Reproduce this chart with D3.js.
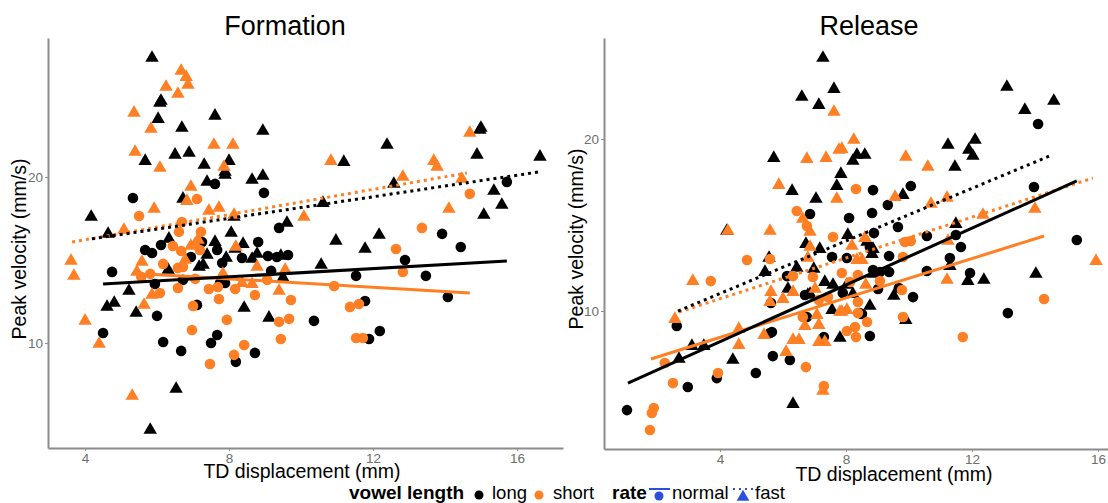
<!DOCTYPE html>
<html>
<head>
<meta charset="utf-8">
<script src="https://cdn.jsdelivr.net/npm/d3@7"></script>
<style>
  html, body { margin: 0; padding: 0; background: #fff; overflow: hidden; }
  text { font-family: "Liberation Sans", Arial, sans-serif; }
</style>
</head>
<body>
<div id="chart"></div>
<script>
var svgWidth = 1108;
var svgHeight = 503;

var black = "#000000";
var orange = "#ff7f24";
var blue = "#2b50dc";

// [TD displacement, peak velocity]
var formationFastLong = [[5.86,27.29],[6.08,24.58],[6.11,24.7],[6.03,23.61],[7.61,23.8],[6.69,23.07],[8.94,22.89],[6.5,21.45],[6.89,21.57],[5.67,21.08],[7.31,20.84],[8.0,21.08],[7.89,20.42],[7.89,20.24],[7.39,19.82],[8.64,19.94],[8.94,20.18],[6.72,18.8],[4.17,17.71],[4.64,16.69],[8.14,17.71],[9.61,17.35],[8.06,16.75],[6.33,16.39],[7.61,16.2],[8.39,16.08],[8.17,15.78],[15.0,23.07],[14.97,22.95],[12.39,22.05],[11.19,21.02],[14.89,21.45],[16.64,21.33],[12.58,19.7],[15.36,19.28],[15.58,18.43],[15.08,17.83],[10.61,18.55],[12.17,16.63],[10.97,16.27],[11.78,15.78],[7.39,15.42],[7.28,14.82],[7.17,14.7],[6.31,14.52],[7.92,15.24],[8.64,15.18],[8.78,15.48],[9.44,15.36],[9.5,14.04],[5.22,13.25],[4.81,12.53],[4.61,12.29],[5.42,11.93],[8.42,12.23],[9.11,11.63],[6.53,7.35],[5.81,4.88],[10.56,14.82]];
var formationNormalLong = [[7.61,19.58],[5.33,18.73],[8.97,19.04],[9.39,16.93],[7.25,16.08],[6.11,15.9],[5.67,15.6],[5.86,15.42],[8.81,16.08],[7.67,15.6],[6.94,15.18],[7.81,14.82],[8.36,15.12],[9.08,15.24],[9.33,15.18],[9.64,15.3],[9.17,14.34],[7.75,13.61],[7.89,13.61],[6.72,13.8],[5.94,13.55],[7.11,12.29],[6.0,11.63],[4.75,14.28],[4.5,10.6],[6.17,10.06],[6.67,9.52],[7.5,10.0],[7.67,10.48],[8.72,9.4],[8.19,8.86],[15.72,19.7],[13.92,16.57],[14.44,15.78],[12.89,15.0],[11.53,14.04],[13.47,14.04],[14.08,12.77],[11.78,12.53],[10.36,11.33],[12.19,10.72],[11.89,10.24]];
var formationFastShort = [[6.67,26.51],[6.81,26.14],[6.86,25.66],[6.25,25.54],[6.58,25.12],[5.36,23.98],[5.83,23.01],[5.39,21.63],[6.08,20.66],[7.58,22.05],[8.11,22.05],[7.86,20.72],[6.94,19.52],[6.83,18.67],[5.92,18.19],[7.44,18.07],[7.72,18.25],[8.14,17.83],[5.08,16.93],[7.06,16.08],[6.94,15.96],[8.19,15.9],[14.69,22.77],[10.83,21.08],[13.69,21.08],[13.78,20.72],[12.83,20.12],[14.47,20.0],[14.11,18.19],[10.08,17.71],[3.61,15.06],[3.69,14.16],[4.0,11.45],[4.39,10.06],[5.31,6.93],[5.58,15.0],[5.44,14.4],[5.86,13.01],[5.64,12.41],[6.78,15.12],[7.83,14.28],[8.78,14.7],[9.56,14.52],[9.39,13.25],[8.64,13.67],[8.36,13.73],[7.14,16.33]];
var formationNormalShort = [[7.11,18.67],[5.5,17.65],[6.69,17.29],[6.61,16.69],[7.22,16.69],[6.44,15.84],[6.67,15.54],[7.19,15.6],[14.69,18.98],[13.36,16.93],[12.64,15.66],[6.17,14.76],[6.58,14.52],[6.72,14.58],[5.81,14.16],[5.56,13.98],[6.08,13.01],[6.58,13.31],[7.06,13.86],[7.44,13.25],[7.69,13.37],[8.17,13.25],[7.72,12.65],[8.72,12.89],[9.72,12.59],[7.0,12.23],[7.94,11.39],[9.67,11.45],[9.39,11.27],[6.97,10.78],[9.44,10.24],[8.42,9.88],[8.14,9.28],[7.47,8.73],[9.06,13.8],[12.83,14.28],[10.92,13.43],[11.61,12.35],[11.36,12.17],[11.53,10.3],[11.72,10.3]];

var releaseFastLong = [[7.27,24.83],[7.62,23.02],[6.6,22.56],[7.14,22.09],[5.71,19.01],[6.29,17.09],[7.05,16.63],[7.71,17.38],[7.84,18.08],[6.73,14.01],[7.17,13.72],[4.22,14.77],[13.11,23.14],[14.6,22.33],[13.68,21.8],[12.1,20.06],[11.24,19.77],[11.9,19.48],[12.03,19.13],[11.46,18.49],[8.6,19.19],[8.35,19.19],[8.22,18.84],[9.81,16.86],[11.49,15.17],[8.06,14.53],[5.56,13.2],[5.43,12.38],[6.44,12.62],[6.98,12.56],[7.33,11.8],[7.59,11.63],[6.16,11.4],[6.79,11.05],[7.56,10.17],[3.11,8.08],[3.49,8.08],[2.7,7.33],[4.41,7.27],[6.32,4.71],[7.81,8.55],[8.67,14.13],[8.83,13.43],[8.86,13.72],[11.3,12.73],[14.03,12.27],[12.38,11.92],[11.87,11.86],[8.86,12.27],[9.52,10.99],[8.76,10.41],[8.03,11.63],[8.22,11.1],[9.9,9.59],[6.86,11.1]];
var releaseNormalLong = [[6.86,15.64],[14.1,20.87],[8.86,17.03],[10.06,17.27],[13.97,17.21],[9.33,16.16],[8.83,15.7],[8.1,15.41],[9.65,14.88],[10.57,14.36],[11.49,14.42],[15.33,14.13],[8.89,14.53],[11.65,13.72],[8.76,13.72],[2.63,9.13],[1.05,4.24],[2.98,5.58],[3.9,6.1],[5.14,6.4],[5.68,7.38],[6.22,7.15],[5.59,8.72],[6.76,9.65],[6.13,12.03],[7.56,13.14],[7.3,8.49],[5.62,10.47],[8.03,13.08],[9.37,13.2],[11.3,13.08],[8.86,12.38],[9.08,12.27],[9.37,12.27],[10.57,12.33],[11.94,12.21],[7.9,11.05],[9.02,11.28],[9.68,11.34],[10.13,10.81],[8.51,9.83],[13.14,9.88],[8.76,8.55],[6.7,10.93],[5.65,8.78],[8.44,9.88]];
var releaseFastShort = [[7.62,21.69],[6.76,18.95],[7.37,19.01],[7.78,19.48],[5.87,17.44],[7.71,16.63],[4.25,14.77],[5.59,14.77],[6.63,15.47],[6.86,14.71],[6.86,13.84],[6.79,13.2],[8.25,20.06],[7.87,19.53],[9.9,19.07],[10.6,18.49],[9.56,16.74],[11.21,16.69],[10.7,16.34],[12.35,15.7],[14.0,16.05],[8.6,14.36],[8.19,13.9],[11.24,14.19],[2.57,9.65],[3.14,11.86],[5.62,11.22],[5.59,10.64],[6.0,10.81],[6.32,11.22],[7.02,11.4],[4.6,9.07],[4.6,8.14],[5.4,8.72],[6.1,7.73],[6.32,8.43],[6.51,8.43],[7.27,5.47],[6.7,9.24],[7.14,9.3],[7.08,9.88],[7.14,8.31],[7.33,8.31],[8.35,13.08],[8.51,13.08],[15.94,13.02],[11.21,11.92],[8.63,11.63],[7.87,10.06],[8.03,10.17],[7.81,10.06]];
var releaseNormalShort = [[6.44,15.81],[6.76,14.94],[7.59,14.3],[8.32,17.09],[9.87,14.01],[10.06,14.07],[4.86,12.97],[5.59,13.02],[3.71,11.74],[6.32,12.03],[6.95,11.98],[2.25,6.98],[3.94,6.4],[2.51,5.81],[6.73,6.74],[7.3,5.64],[1.9,4.36],[1.84,4.07],[1.78,3.08],[6.63,9.65],[7.43,10.81],[9.81,13.14],[7.87,12.21],[8.38,12.09],[9.08,11.74],[9.78,11.22],[8.38,10.52],[8.38,9.88],[9.81,9.65],[8.67,9.36],[8.29,9.07],[8.03,8.84],[8.32,8.49],[11.71,8.49],[14.29,10.7],[8.13,11.69],[7.14,10.64]];

// fitted lines, end points
var formationLines = {
  normalLong: [[4.5,13.55],[15.72,14.94]],
  normalShort: [[5.7,14.15],[14.69,13.01]],
  fastLong: [[4.19,16.27],[16.61,20.3]],
  fastShort: [[3.64,16.08],[14.61,20.24]]
};
var releaseLines = {
  normalLong: [[1.08,5.81],[15.33,17.56]],
  normalShort: [[1.81,7.21],[14.29,14.36]],
  fastLong: [[2.67,10.0],[14.54,19.07]],
  fastShort: [[2.7,9.94],[15.84,17.73]]
};

var xTicks = [4, 8, 12, 16];
var yTicks = [10, 20];

var svg = d3.select("#chart")
  .append("svg")
  .attr("width", svgWidth)
  .attr("height", svgHeight)
  .style("display", "block");

function drawPanel(p) {
  var x = d3.scaleLinear().domain(p.xDomain).range([p.left, p.right]);
  var y = d3.scaleLinear().domain(p.yDomain).range([p.bottom, p.top]);
  var g = svg.append("g");

  var xAxis = g.append("g")
    .attr("transform", `translate(0, ${p.bottom})`)
    .call(d3.axisBottom(x).tickValues(xTicks).tickSizeInner(3).tickSizeOuter(0).tickPadding(2).tickFormat(d3.format("d")));
  var yAxis = g.append("g")
    .attr("transform", `translate(${p.left}, 0)`)
    .call(d3.axisLeft(y).tickValues(yTicks).tickSizeInner(3).tickSizeOuter(0).tickPadding(2).tickFormat(d3.format("d")));

  [xAxis, yAxis].forEach(function(a) {
    a.select(".domain").attr("stroke", "#8c8c8c").attr("stroke-width", 2);
    a.selectAll(".tick line").attr("stroke", "#8c8c8c").attr("stroke-width", 1);
    a.selectAll(".tick text")
      .attr("fill", "#6e6e6e")
      .style("font-size", "13.5px")
      .style("font-family", '"Liberation Sans", Arial, sans-serif');
  });

  var tri = d3.symbol().type(d3.symbolTriangle).size(78)();
  var dot = d3.symbol().type(d3.symbolCircle).size(88)();

  // triangles: d3 centres on the centroid, nudge so the read value is the middle of the shape
  function points(data, shape, color, nudge) {
    g.append("g").selectAll("path")
      .data(data)
      .enter()
      .append("path")
      .attr("d", shape)
      .attr("fill", color)
      .attr("transform", d => `translate(${x(d[0])}, ${y(d[1]) + nudge})`);
  }
  points(p.fastLong, tri, black, 2);
  points(p.normalLong, dot, black, 0);
  points(p.fastShort, tri, orange, 2);
  points(p.normalShort, dot, orange, 0);

  var line = d3.line().x(d => x(d[0])).y(d => y(d[1]));
  function fit(data, color, dash) {
    g.append("path")
      .attr("d", line(data))
      .attr("fill", "none")
      .attr("stroke", color)
      .attr("stroke-width", 3)
      .attr("stroke-dasharray", dash);
  }
  fit(p.lines.fastShort, orange, "3 4");
  fit(p.lines.fastLong, black, "3 4");
  fit(p.lines.normalShort, orange, null);
  fit(p.lines.normalLong, black, null);

  g.append("text")
    .attr("x", p.titleX)
    .attr("y", 35)
    .attr("text-anchor", "middle")
    .style("font-size", "27px")
    .text(p.title);

  g.append("text")
    .attr("x", p.xLabelX)
    .attr("y", p.xLabelY)
    .attr("text-anchor", "middle")
    .style("font-size", "19.5px")
    .text("TD displacement (mm)");

  g.append("text")
    .attr("transform", `translate(${p.yLabelX}, ${p.yLabelY}) rotate(-90)`)
    .attr("text-anchor", "middle")
    .style("font-size", "19.5px")
    .text("Peak velocity (mm/s)");
}

drawPanel({
  title: "Formation", titleX: 285,
  left: 48, right: 563, top: 38, bottom: 448,
  xDomain: [2.97, 17.28], yDomain: [3.67, 28.37],
  xLabelX: 302, xLabelY: 478, yLabelX: 26, yLabelY: 249,
  fastLong: formationFastLong, normalLong: formationNormalLong,
  fastShort: formationFastShort, normalShort: formationNormalShort,
  lines: formationLines
});

drawPanel({
  title: "Release", titleX: 869,
  left: 604, right: 1108, top: 38, bottom: 449,
  xDomain: [0.32, 16.32], yDomain: [1.98, 25.87],
  xLabelX: 894, xLabelY: 481, yLabelX: 583, yLabelY: 239,
  fastLong: releaseFastLong, normalLong: releaseNormalLong,
  fastShort: releaseFastShort, normalShort: releaseNormalShort,
  lines: releaseLines
});

// legend along the bottom
var legend = svg.append("g");

function legendText(x, label, bold) {
  legend.append("text")
    .attr("x", x)
    .attr("y", 499)
    .style("font-size", bold ? "19px" : "18.5px")
    .style("font-weight", bold ? "bold" : "normal")
    .text(label);
}

legendText(349, "vowel length", true);
legend.append("circle").attr("cx", 479).attr("cy", 495).attr("r", 4.5).attr("fill", black);
legendText(492, "long");
legend.append("circle").attr("cx", 539).attr("cy", 495).attr("r", 4.5).attr("fill", orange);
legendText(553, "short");
legendText(612, "rate", true);

legend.append("line")
  .attr("x1", 649).attr("x2", 670).attr("y1", 489).attr("y2", 489)
  .attr("stroke", blue).attr("stroke-width", 2);
legend.append("circle").attr("cx", 659).attr("cy", 496).attr("r", 4.5).attr("fill", blue);
legendText(672, "normal");

legend.append("line")
  .attr("x1", 733).attr("x2", 753).attr("y1", 489).attr("y2", 489)
  .attr("stroke", blue).attr("stroke-width", 2).attr("stroke-dasharray", "2 4");
legend.append("path")
  .attr("d", d3.symbol().type(d3.symbolTriangle).size(70)())
  .attr("transform", "translate(743, 497)")
  .attr("fill", blue);
legendText(755, "fast");
</script>
</body>
</html>
